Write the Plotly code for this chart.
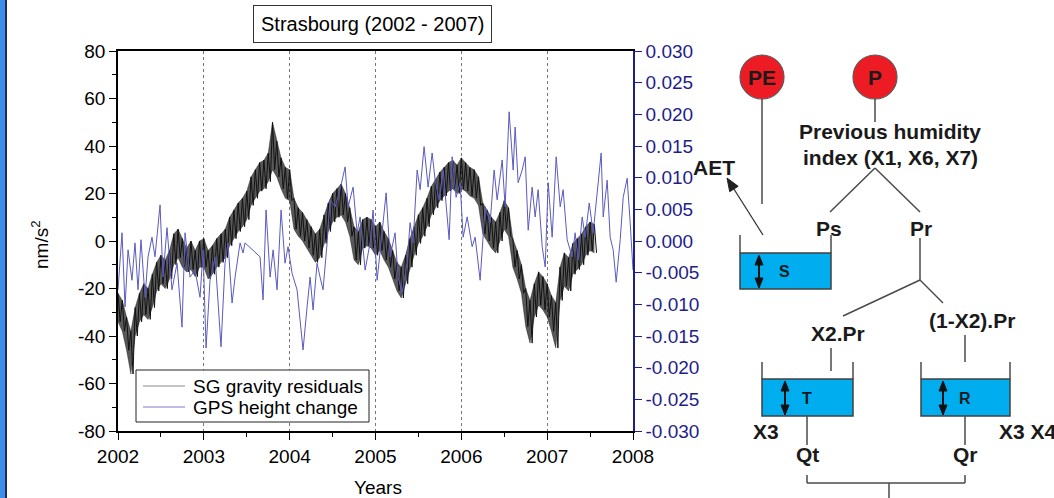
import math
import plotly.graph_objects as go

# ---------------- data ----------------
sg_years = [2002.00, 2002.05, 2002.10, 2002.15, 2002.20, 2002.25, 2002.30, 2002.35, 2002.40, 2002.45,
            2002.50, 2002.55, 2002.60, 2002.65, 2002.70, 2002.75, 2002.80, 2002.85, 2002.90, 2002.95,
            2003.00, 2003.05, 2003.10, 2003.15, 2003.20, 2003.25, 2003.30, 2003.35, 2003.40, 2003.45,
            2003.50, 2003.55, 2003.60, 2003.65, 2003.70, 2003.75, 2003.80, 2003.85, 2003.90, 2003.95,
            2004.00, 2004.05, 2004.10, 2004.15, 2004.20, 2004.25, 2004.30, 2004.35, 2004.40, 2004.45,
            2004.50, 2004.55, 2004.60, 2004.65, 2004.70, 2004.75, 2004.80, 2004.85, 2004.90, 2004.95,
            2005.00, 2005.05, 2005.10, 2005.15, 2005.20, 2005.25, 2005.30, 2005.35, 2005.40, 2005.45,
            2005.50, 2005.55, 2005.60, 2005.65, 2005.70, 2005.75, 2005.80, 2005.85, 2005.90, 2005.95,
            2006.00, 2006.05, 2006.10, 2006.15, 2006.20, 2006.25, 2006.30, 2006.35, 2006.40, 2006.45,
            2006.50, 2006.55, 2006.60, 2006.65, 2006.70, 2006.75, 2006.80, 2006.85, 2006.90, 2006.95,
            2007.00, 2007.05, 2007.10, 2007.15, 2007.20, 2007.25, 2007.30, 2007.35, 2007.40, 2007.45,
            2007.50, 2007.55]
sg_upper = [-22, -25, -32, -38, -28, -22, -18, -20, -14, -9,
            -6, -8, -4, 3, 5, 1, -3, 0, -4, 0,
            1, -4, -2, 1, 3, 5, 10, 13, 16, 18,
            21, 27, 30, 33, 34, 37, 50, 42, 35, 31,
            30, 18, 14, 12, 9, 6, 3, 5, 11, 16,
            20, 22, 24, 20, 14, 6, 4, 9, 10, 9,
            6, 8, 4, 1, -4, -9, -11, -6, 1, 6,
            11, 14, 18, 23, 26, 29, 31, 33, 34, 32,
            35, 33, 31, 30, 27, 16, 13, 10, 8, 12,
            17, 14, 1, -4, -10, -20, -25, -18, -13, -15,
            -18, -23, -26, -11, -5, -7, -1, 1, 3, 6,
            8, 7]
sg_lower = [-34, -38, -46, -56, -40, -34, -31, -33, -28, -21,
            -18, -20, -16, -10, -7, -11, -13, -12, -15, -11,
            -11, -16, -14, -11, -9, -7, -2, 1, 4, 6,
            9, 15, 18, 21, 22, 25, 30, 27, 22, 18,
            17, 5, 2, 0, -3, -6, -9, -7, -1, 4,
            8, 10, 11, 8, 2, -8, -10, -3, -2, -3,
            -6, -4, -8, -11, -16, -21, -24, -18, -11, -6,
            -1, 2, 6, 11, 14, 17, 19, 21, 22, 20,
            22, 21, 19, 18, 15, 3, 0, -3, -5, 0,
            5, 2, -11, -16, -22, -36, -43, -32, -27, -29,
            -32, -38, -45, -25, -19, -21, -14, -12, -10, -6,
            -4, -5]

gps_years = [2002.000, 2002.047, 2002.082, 2002.117, 2002.163, 2002.198, 2002.233, 2002.268, 2002.315, 2002.350,
             2002.396, 2002.431, 2002.490, 2002.524, 2002.571, 2002.629, 2002.688, 2002.746, 2002.781, 2002.839,
             2002.897, 2002.956, 2002.991, 2003.026, 2003.072, 2003.131, 2003.200, 2003.247, 2003.282, 2003.329,
             2003.364, 2003.422, 2003.457, 2003.480, 2003.655, 2003.690, 2003.725, 2003.772, 2003.807, 2003.853,
             2003.900, 2003.946, 2003.981, 2004.028, 2004.086, 2004.121, 2004.156, 2004.203, 2004.238, 2004.273,
             2004.319, 2004.354, 2004.389, 2004.436, 2004.471, 2004.529, 2004.587, 2004.646, 2004.681, 2004.739,
             2004.786, 2004.821, 2004.879, 2004.937, 2004.972, 2005.019, 2005.077, 2005.124, 2005.170, 2005.228,
             2005.263, 2005.310, 2005.368, 2005.403, 2005.438, 2005.485, 2005.520, 2005.566, 2005.613, 2005.660,
             2005.695, 2005.741, 2005.788, 2005.858, 2005.893, 2005.939, 2005.986, 2006.021, 2006.068, 2006.126,
             2006.161, 2006.219, 2006.277, 2006.336, 2006.382, 2006.417, 2006.476, 2006.510, 2006.557, 2006.604,
             2006.627, 2006.662, 2006.709, 2006.744, 2006.779, 2006.825, 2006.860, 2006.895, 2006.942, 2006.977,
             2007.012, 2007.058, 2007.105, 2007.152, 2007.186, 2007.233, 2007.291, 2007.326, 2007.361, 2007.408,
             2007.443, 2007.490, 2007.536, 2007.583, 2007.629, 2007.653, 2007.699, 2007.734, 2007.769, 2007.804,
             2007.851, 2007.886, 2007.932, 2007.967, 2008.000]
gps_vals = [-0.0077, 0.0013, -0.0104, -0.0014, -0.0062, -0.0003, -0.0077, 0.0002, -0.0089, -0.0025,
            0.0006, -0.0025, 0.0057, -0.0057, 0.0021, -0.0077, -0.0035, -0.0136, 0.0013, -0.0057,
            -0.0046, -0.0089, -0.0014, -0.0169, -0.0062, -0.0025, -0.0167, -0.0035, -0.0003, -0.0098,
            -0.0057, -0.0003, -0.0019, -0.0003, -0.0025, -0.0093, 0.0049, -0.0057, -0.0014, -0.0077,
            0.0049, -0.0035, -0.0009, -0.0051, -0.0077, -0.0120, -0.0172, -0.0104, -0.0057, -0.0109,
            -0.0035, -0.0057, -0.0077, -0.0003, 0.0065, 0.0054, 0.0081, 0.0117, 0.0054, 0.0085,
            0.0013, 0.0038, -0.0046, -0.0003, 0.0049, -0.0062, 0.0017, 0.0076, -0.0025, 0.0013,
            -0.0057, -0.0082, -0.0035, 0.0029, -0.0003, 0.0112, 0.0081, 0.0149, 0.0085, 0.0139,
            0.0096, 0.0065, 0.0112, 0.0002, 0.0133, 0.0069, 0.0092, 0.0006, 0.0038, -0.0009,
            0.0006, -0.0062, 0.0054, 0.0029, 0.0112, 0.0065, 0.0128, 0.0054, 0.0204, 0.0112,
            0.0180, 0.0092, 0.0112, 0.0133, 0.0017, 0.0085, 0.0038, 0.0081, -0.0009, -0.0041,
            0.0092, 0.0006, 0.0133, 0.0054, 0.0081, 0.0002, -0.0025, 0.0013, -0.0030, 0.0038,
            0.0006, 0.0060, 0.0013, 0.0076, 0.0139, 0.0038, 0.0096, 0.0006, -0.0014, -0.0065,
            0.0002, 0.0069, 0.0099, 0.0029, -0.0046]

year_ticks = [2002, 2003, 2004, 2005, 2006, 2007, 2008]
left_ticks = [-80, -60, -40, -20, 0, 20, 40, 60, 80]
left_labels = ["-80", "-60", "-40", "-20", "0", "20", "40", "60", "80"]
right_ticks = [-0.030, -0.025, -0.020, -0.015, -0.010, -0.005, 0.000, 0.005, 0.010, 0.015, 0.020, 0.025, 0.030]
right_labels = ["-0.030", "-0.025", "-0.020", "-0.015", "-0.010", "-0.005", "0.000",
                "0.005", "0.010", "0.015", "0.020", "0.025", "0.030"]
series_names = ["SG gravity residuals", "GPS height change"]

# ---------------- layout geometry (pixels) ----------------
W, H = 1054, 498
L, R, T, B = 118, 633, 51, 431
FONT = "Liberation Sans, Arial, Helvetica, sans-serif"
NAVY = "#1e1e8a"
SG_COLOR = "#111111"
GPS_COLOR = "#5a5ac0"


def px(x):
    return (x - L) / (R - L)


def py(y):
    return (B - y) / (B - T)


# SG band: alternate upper / lower envelope readings
sg_x, sg_y = [], []
for t, u, lo in zip(sg_years, sg_upper, sg_lower):
    sg_x += [t, t + 0.025]
    sg_y += [u, lo]

fig = go.Figure()
fig.add_trace(go.Scatter(x=sg_years, y=sg_upper, mode="lines", showlegend=False, hoverinfo="skip",
                         line=dict(color="rgba(0,0,0,0.6)", width=0.6)))
fig.add_trace(go.Scatter(x=sg_years, y=sg_lower, mode="lines", showlegend=False, hoverinfo="skip",
                         fill="tonexty", fillcolor="rgba(10,10,10,0.68)",
                         line=dict(color="rgba(0,0,0,0.6)", width=0.6)))
fig.add_trace(go.Scatter(x=sg_x, y=sg_y, mode="lines", name=series_names[0], showlegend=False,
                         line=dict(color=SG_COLOR, width=1)))
fig.add_trace(go.Scatter(x=gps_years, y=gps_vals, mode="lines", name=series_names[1], showlegend=False,
                         yaxis="y2", line=dict(color=GPS_COLOR, width=1)))

fig.update_layout(
    width=W, height=H, autosize=False,
    margin=dict(l=L, r=W - R, t=T, b=H - B, pad=0),
    paper_bgcolor="white", plot_bgcolor="white",
    font=dict(family=FONT, size=19, color="black"),
    showlegend=False,
    xaxis=dict(range=[2002, 2008], tickvals=year_ticks, ticks="outside", ticklen=7,
               tickwidth=1.2, tickcolor="black", showline=True, linecolor="black",
               linewidth=1.5, mirror=True, zeroline=False,
               showgrid=True, gridcolor="#777777", griddash="dot", gridwidth=1,
               minor=dict(dtick=0.5, ticks="outside", ticklen=4, tickcolor="black", showgrid=False),
               tickfont=dict(size=19)),
    yaxis=dict(range=[-80, 80], tickvals=left_ticks, ticktext=left_labels, ticks="outside", ticklen=7,
               tickwidth=1.2, tickcolor="black", showline=True, linecolor="black",
               linewidth=1.5, zeroline=False, showgrid=False,
               minor=dict(dtick=10, ticks="outside", ticklen=4, tickcolor="black"),
               tickfont=dict(size=19)),
    yaxis2=dict(range=[-0.03, 0.03], overlaying="y", side="right", tickvals=right_ticks,
                ticktext=right_labels, ticks="outside", ticklen=7, tickwidth=1.2,
                tickcolor=NAVY, showline=True, linecolor=NAVY, linewidth=1.5,
                zeroline=False, showgrid=False, tickfont=dict(size=19, color=NAVY)),
)

shapes = []
annotations = []


def seg(x0, y0, x1, y1, w=1.5, c="#4a4a4a"):
    shapes.append(dict(type="line", xref="paper", yref="paper", x0=px(x0), y0=py(y0),
                       x1=px(x1), y1=py(y1), line=dict(color=c, width=w)))


def text(x, y, s, size=21, anchor="center", bold=True, color="#1a1a1a", **kw):
    annotations.append(dict(xref="paper", yref="paper", x=px(x), y=py(y),
                            text=("<b>%s</b>" % s) if bold else s,
                            showarrow=False, xanchor=anchor, yanchor="middle",
                            font=dict(size=size, color=color), **kw))


def head(hx, hy, tx, ty, length=11, half=4.5, color="#222222"):
    dx, dy = hx - tx, hy - ty
    n = math.hypot(dx, dy)
    ux, uy = dx / n, dy / n
    bx, by = hx - ux * length, hy - uy * length
    p1 = (bx - uy * half, by + ux * half)
    p2 = (bx + uy * half, by - ux * half)
    path = "M %f,%f L %f,%f L %f,%f Z" % (px(hx), py(hy), px(p1[0]), py(p1[1]), px(p2[0]), py(p2[1]))
    shapes.append(dict(type="path", xref="paper", yref="paper", path=path,
                       fillcolor=color, line=dict(color=color, width=1)))


# left blue border
shapes.append(dict(type="rect", xref="paper", yref="paper", x0=px(-1), x1=px(5), y0=py(H + 1), y1=py(-1),
                   fillcolor="#3d8ee8", line=dict(width=0), layer="above"))
shapes.append(dict(type="line", xref="paper", yref="paper", x0=px(6), x1=px(6), y0=py(H + 1), y1=py(-1),
                   line=dict(color="#1c2d5a", width=2), layer="above"))

# title box
text(372, 24, "Strasbourg (2002 - 2007)", size=20, bold=False, color="black",
     bordercolor="#333333", borderwidth=1, borderpad=7, bgcolor="white")
# axis titles
text(40, 245, "nm/s<sup>2</sup>", size=19, bold=False, color="black", textangle=-90)
text(378, 487, "Years", size=19, bold=False, color="black")

# legend (drawn by hand)
shapes.append(dict(type="rect", xref="paper", yref="paper", x0=px(136), x1=px(369), y0=py(422), y1=py(370),
                   fillcolor="white", line=dict(color="#222222", width=1)))
seg(143, 386, 185, 386, w=1, c="#8a8a8a")
seg(143, 407, 185, 407, w=1, c="#7a7acc")
text(191, 386, series_names[0], size=19, anchor="left", bold=False, color="black")
text(191, 407, series_names[1], size=19, anchor="left", bold=False, color="black")

# ---------------- diagram ----------------


def circle(cx, cy, r):
    shapes.append(dict(type="circle", xref="paper", yref="paper", x0=px(cx - r), x1=px(cx + r),
                       y0=py(cy + r), y1=py(cy - r), fillcolor="#ed1c24",
                       line=dict(color="#5a5a5a", width=1.2)))


def tank(xl, xr, ytop, ywat, ybot):
    shapes.append(dict(type="rect", xref="paper", yref="paper", x0=px(xl), x1=px(xr),
                       y0=py(ybot), y1=py(ywat), fillcolor="#00aeef", line=dict(color="#404040", width=1.5)))
    seg(xl, ytop, xl, ywat)
    seg(xr, ytop, xr, ywat)


def darrow(x, y0, y1):
    seg(x, y0 + 6, x, y1 - 6, w=2, c="#111111")
    head(x, y0, x, y1, length=10, half=4, color="#111111")
    head(x, y1, x, y0, length=10, half=4, color="#111111")


circle(762, 77, 22)
circle(875, 77, 22)
text(762, 77, "PE")
text(875, 77, "P")
seg(762, 99, 762, 204)
seg(875, 99, 875, 122)
text(890, 131, "Previous humidity")
text(890, 157, "index (X1, X6, X7)")
seg(875, 168, 830, 212)
seg(875, 168, 920, 212)
text(714, 167, "AET")
seg(763, 235, 732, 186, w=1.3, c="#333333")
head(727, 178, 763, 235, length=13, half=5, color="#222222")
text(829, 228, "Ps")
text(921, 228, "Pr")

tank(740, 831, 235, 253, 289)
darrow(759, 255, 288)
text(784, 271, "S", size=16)

seg(920, 238, 920, 280)
seg(920, 280, 843, 316)
seg(920, 280, 943, 303)
text(838, 333, "X2.Pr")
text(972, 320, "(1-X2).Pr")
seg(831, 348, 831, 371)
seg(965, 335, 965, 362)

tank(762, 853, 362, 379, 416)
darrow(785, 381, 415)
text(807, 398, "T", size=16)
tank(921, 1010, 362, 379, 416)
darrow(943, 381, 415)
text(965, 398, "R", size=16)

text(766, 432, "X3")
text(997, 432, "X3 X4", anchor="left")
seg(807, 416, 807, 445)
seg(965, 416, 965, 445)
text(807, 454, "Qt")
text(965, 454, "Qr")
seg(807, 475, 807, 483)
seg(807, 483, 965, 483)
seg(965, 475, 965, 483)
seg(889, 483, 889, 498)

fig.update_layout(shapes=shapes, annotations=annotations)
fig.write_html("out.html", config={"displayModeBar": False},
               post_script="document.body.style.margin='0px';")
